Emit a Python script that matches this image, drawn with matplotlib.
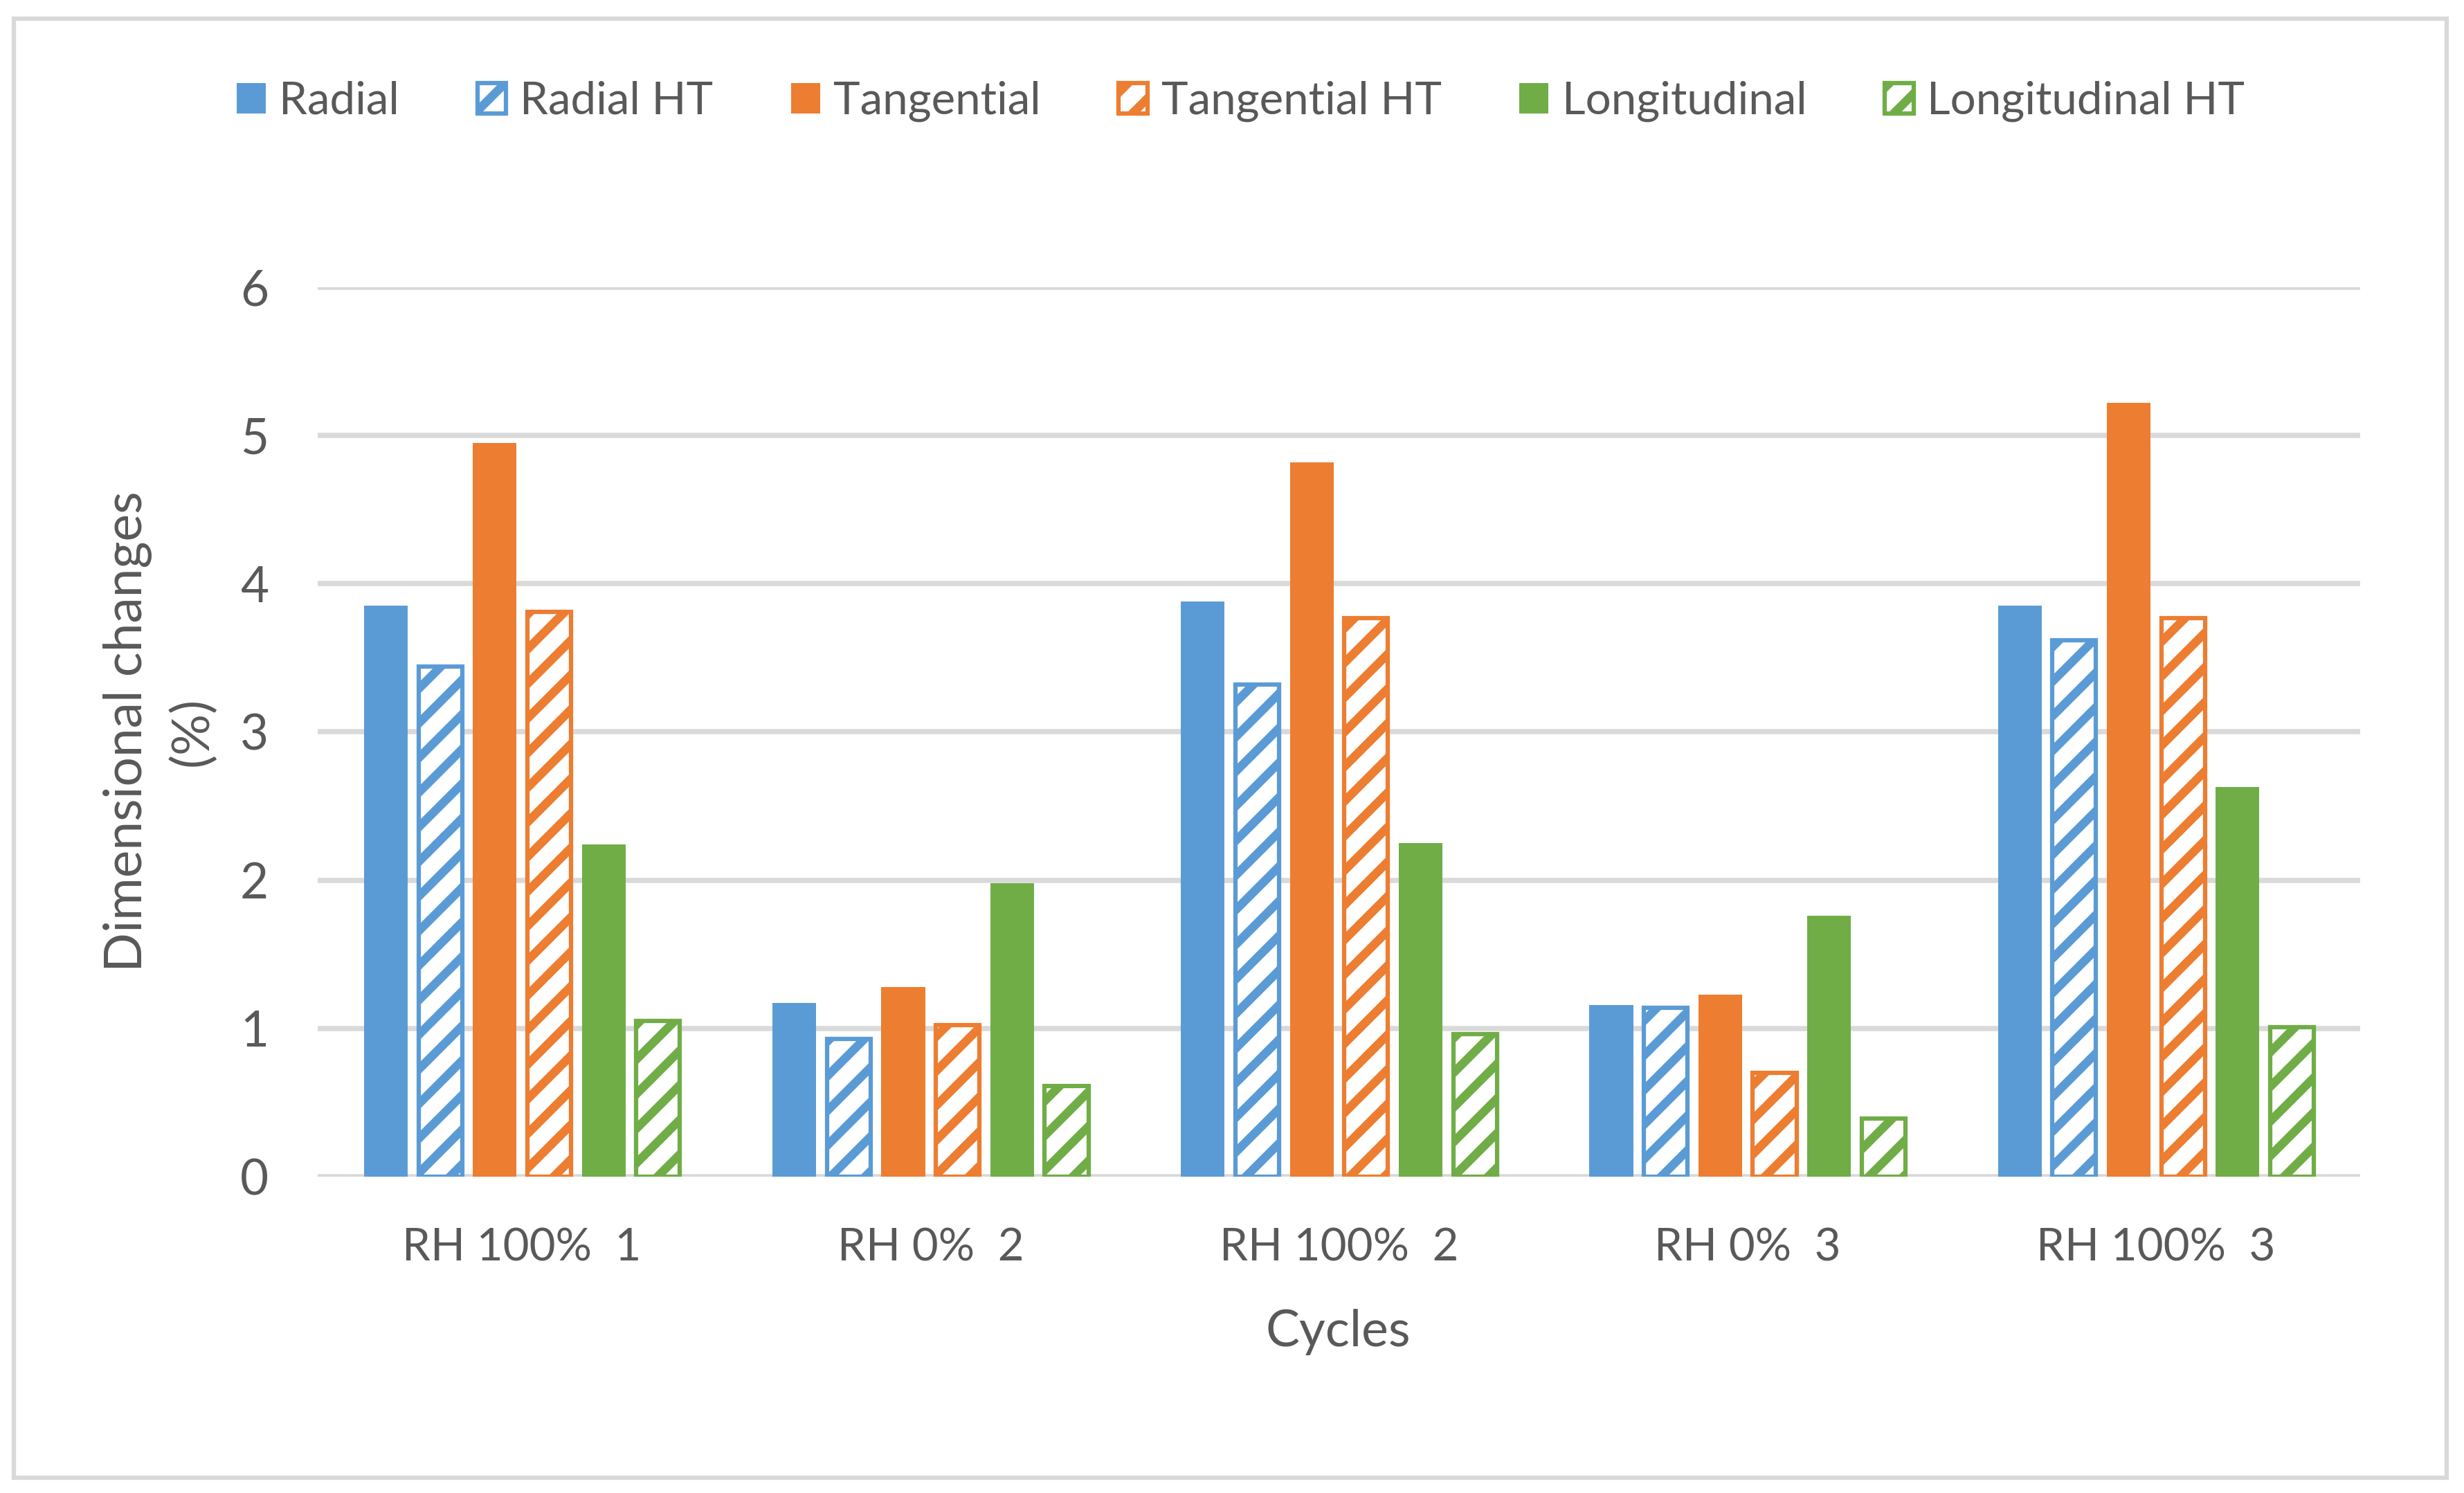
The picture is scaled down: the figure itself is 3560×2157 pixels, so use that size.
import matplotlib
matplotlib.use("Agg")
import matplotlib.pyplot as plt
from matplotlib.patches import Rectangle
import numpy as np

# data
cycles = ["RH 100%  1", "RH 0%  2", "RH 100%  2", "RH 0%  3", "RH 100%  3"]
radial = [3.85, 1.17, 3.88, 1.16, 3.85]
radialHT = [3.44, 0.93, 3.32, 1.14, 3.62]
tangential = [4.95, 1.28, 4.82, 1.23, 5.22]
tangentialHT = [3.81, 1.02, 3.77, 0.70, 3.77]
longitudinal = [2.24, 1.98, 2.25, 1.76, 2.63]
longitudinalHT = [1.05, 0.61, 0.96, 0.39, 1.01]

seriesNames = ["Radial", "Radial HT", "Tangential", "Tangential HT",
               "Longitudinal", "Longitudinal HT"]
seriesValues = [radial, radialHT, tangential, tangentialHT,
                longitudinal, longitudinalHT]

blue = "#5B9BD5"
orange = "#ED7D31"
green = "#70AD47"
colors = [blue, blue, orange, orange, green, green]
textColor = "#595959"
gridColor = "#D9D9D9"

plt.rcParams['font.family'] = ['Lato', 'DejaVu Sans']
plt.rcParams['hatch.linewidth'] = 3.0

fig = plt.figure(figsize=(3561 / 300, 2157 / 300), dpi=300)
ax = fig.add_axes([0.1289, 0.2119, 0.9576 - 0.1289, 0.8076 - 0.2119])

x = np.arange(len(cycles))
barWidth = 0.107
pitch = 0.1333

# Bars: plain ones filled, "HT" ones white with diagonal hatch
for i, (name, vals) in enumerate(zip(seriesNames, seriesValues)):
    offset = (i - 2.5) * pitch
    if name.endswith("HT"):
        ax.bar(x + offset, vals, barWidth, facecolor="white",
               edgecolor=colors[i], linewidth=1.5, hatch="//", label=name,
               zorder=3)
    else:
        ax.bar(x + offset, vals, barWidth, color=colors[i], linewidth=0,
               label=name, zorder=3)

ax.set_xlim(-0.5, len(cycles) - 0.5)
ax.set_ylim(0, 6)
ax.set_yticks(range(0, 7))
ax.set_xticks(x)
ax.set_xticklabels(cycles)

# Grid and axes
ax.yaxis.grid(True, color=gridColor, linewidth=1.8, zorder=0)
ax.set_axisbelow(True)
for s in ["top", "right", "left", "bottom"]:
    ax.spines[s].set_visible(False)
ax.tick_params(axis="both", length=0, colors=textColor)
ax.tick_params(axis="x", labelsize=15.7, pad=17.7)
ax.tick_params(axis="y", labelsize=17, pad=17)

# Axis titles
fig.text(0.0647, 0.51, "Dimensional changes\n(%)", rotation=90,
         ha="center", va="center", multialignment="center",
         fontsize=18, color=textColor, linespacing=1.4)
fig.text(0.543, 0.0983, "Cycles", ha="center", va="baseline",
         fontsize=17.6, color=textColor)

# Legend across the top
leg = fig.legend(loc="center", bbox_to_anchor=(0.5034, 0.932), ncol=6,
                 frameon=False, fontsize=15.7, handlelength=0.64,
                 handleheight=0.64, handletextpad=0.3, columnspacing=1.72,
                 borderpad=0)
for t in leg.get_texts():
    t.set_color(textColor)

# Border around the whole chart
fig.patches.append(Rectangle((0.0056, 0.0102), 0.9927 - 0.0056,
                             0.9875 - 0.0102, transform=fig.transFigure,
                             fill=False, edgecolor=gridColor, linewidth=1.5))

fig.savefig("out.png", dpi=300, facecolor="white")
